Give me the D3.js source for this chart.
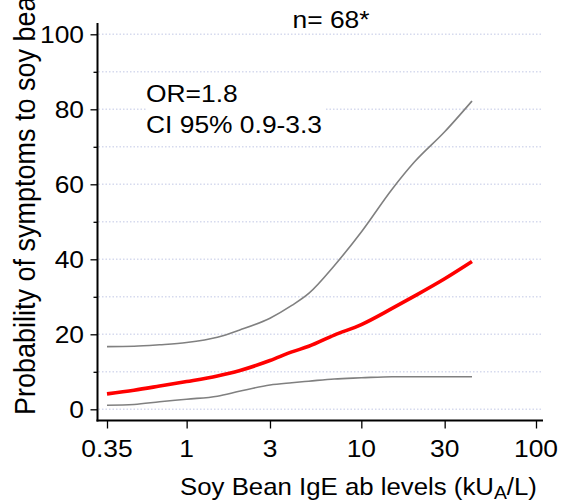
<!DOCTYPE html>
<html><head><meta charset="utf-8">
<script src="https://cdn.jsdelivr.net/npm/d3@7"></script>
<style>
html,body{margin:0;padding:0;background:#fff;}
svg{display:block;font-family:"Liberation Sans",Arial,sans-serif;}
</style></head>
<body><svg id="c" width="569" height="502"></svg>
<script>
// ---- data ----
const igeLevels   = [0.35, 0.5, 0.7, 1, 1.5, 2, 3, 4, 5, 7, 10, 15, 20, 30, 43];
const probability = [4.1, 5.1, 6.2, 7.4, 8.9, 10.3, 13.0, 15.3, 16.8, 19.8, 22.6, 26.9, 30.1, 34.8, 39.4];
const upperCI     = [16.7, 16.8, 17.2, 17.8, 19.2, 21.1, 24.3, 27.7, 30.9, 38.3, 47.3, 58.7, 65.8, 74.0, 82.2];
const lowerCI     = [1.1, 1.3, 2.0, 2.7, 3.5, 4.8, 6.5, 7.1, 7.5, 8.1, 8.4, 8.7, 8.7, 8.7, 8.7];
const xTicks      = [0.35, 1, 3, 10, 30, 100];
const xTickLabels = ["0.35", "1", "3", "10", "30", "100"];
const yMajor      = [0, 20, 40, 60, 80, 100];
const yMinor      = [10, 30, 50, 70, 90];
const yGrid       = [0, 10, 20, 30, 40, 50, 60, 70, 80, 90, 100];
const title       = "n= 68*";
const noteLines   = ["OR=1.8", "CI 95% 0.9-3.3"];
const yTitle      = "Probability of symptoms to soy bean";

const svg = d3.select("#c");
const x = d3.scaleLog().domain([0.35, 100]).range([107, 536]);
const y = d3.scaleLinear().domain([0, 100]).range([409.3, 34.3]);
const FS = 24, SX = 1.1;
const axL = 97.5, axR = 543, axB = 420.5, axT = 23;

// gridlines
svg.append("g").selectAll("line").data(yGrid).join("line")
  .attr("x1", axL + 1).attr("x2", axR)
  .attr("y1", d => y(d)).attr("y2", d => y(d))
  .attr("stroke", "#d6daee").attr("stroke-width", 1.5)
  .attr("stroke-dasharray", "1.5,2");

// white box behind annotation
svg.append("rect").attr("x", 146).attr("y", 80).attr("width", 179).attr("height", 58).attr("fill", "#fff");

function txt(s, px, py, anchor, sx) {
  return svg.append("text").attr("transform", `translate(${px},${py}) scale(${sx || SX},1)`)
    .attr("text-anchor", anchor || "start").attr("font-size", FS).attr("fill", "#000").text(s);
}

// curves
const line = d3.line().x(d => x(d[0])).y(d => y(d[1])).curve(d3.curveMonotoneX);
[[upperCI, "#808080", 1.6], [lowerCI, "#808080", 1.6], [probability, "#ff0000", 3.6]].forEach(([vals, col, w]) => {
  svg.append("path").attr("d", line(igeLevels.map((v, i) => [v, vals[i]])))
    .attr("fill", "none").attr("stroke", col).attr("stroke-width", w)
    .attr("stroke-linejoin", "round").attr("stroke-linecap", "butt");
});

// axes
const yAxis = svg.append("g").attr("transform", `translate(${axL},0)`)
  .call(d3.axisLeft(y).tickValues(yMajor).tickSize(7).tickFormat(""));
yAxis.select(".domain").remove();
yAxis.selectAll("line").attr("stroke", "#000").attr("stroke-width", 1.3);
svg.append("g").attr("transform", `translate(${axL},0)`)
  .call(d3.axisLeft(y).tickValues(yMinor).tickSize(4).tickFormat(""))
  .call(g => { g.select(".domain").remove(); g.selectAll("line").attr("stroke", "#000").attr("stroke-width", 1.3); });
yMajor.forEach(v => txt(d3.format("d")(v), 84, y(v) + 8.3, "end"));

svg.append("line").attr("x1", axL).attr("x2", axL).attr("y1", axT).attr("y2", axB + 1)
  .attr("stroke", "#000").attr("stroke-width", 2);

const xAxis = svg.append("g").attr("transform", `translate(0,${axB})`)
  .call(d3.axisBottom(x).tickValues(xTicks).tickSize(8).tickFormat(""));
xAxis.select(".domain").remove();
xAxis.selectAll("line").attr("stroke", "#000").attr("stroke-width", 1.3);
xTicks.forEach((v, i) => txt(xTickLabels[i], x(v), 457, "middle"));
svg.append("line").attr("x1", axL - 1).attr("x2", axR).attr("y1", axB).attr("y2", axB)
  .attr("stroke", "#000").attr("stroke-width", 2);

// title + notes
txt(title, 331, 28, "middle");
txt(noteLines[0], 146, 101.5);
txt(noteLines[1], 146, 132.5);

// x title with subscript
const xt = svg.append("text").attr("transform", `translate(358.5,494.5) scale(1.075,1)`)
  .attr("text-anchor", "middle").attr("font-size", FS).attr("fill", "#000");
xt.append("tspan").text("Soy Bean IgE ab levels (kU");
xt.append("tspan").attr("font-size", 18).attr("dy", 4.5).text("A");
xt.append("tspan").attr("dy", -4.5).text("/L)");

// y title
svg.append("text").attr("transform", "translate(35,415) scale(1.12,1) rotate(-90)")
  .attr("font-size", 27).attr("fill", "#000").text(yTitle);
</script>
</body></html>
